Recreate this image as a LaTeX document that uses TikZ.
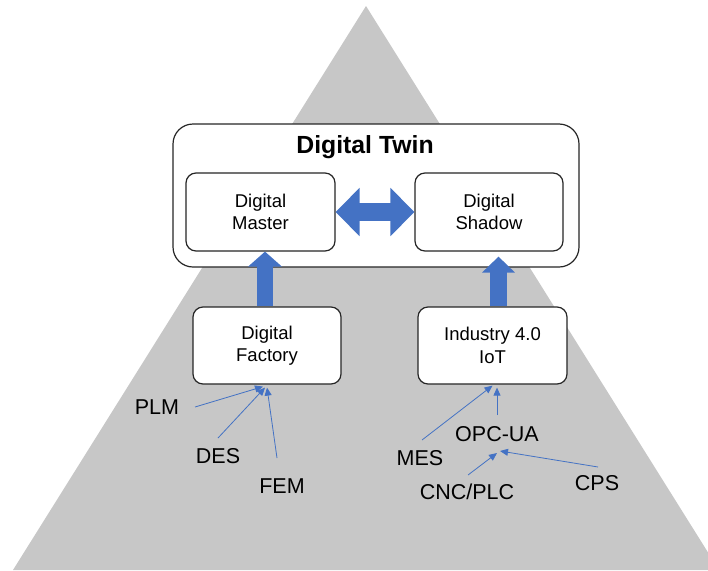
\documentclass[tikz,border=0pt]{standalone}
\usepackage{fontspec}
\setmainfont{Liberation Sans}
\usetikzlibrary{arrows.meta,calc}
\definecolor{pyramid}{RGB}{199,199,199}
\definecolor{flow}{RGB}{68,114,196}
\definecolor{frame}{RGB}{38,38,38}

\begin{document}
\begin{tikzpicture}[x=1pt,y=-1pt,
  box/.style={draw=frame, line width=1.2pt, fill=white, rounded corners=10pt,
    minimum width=149pt, minimum height=78pt, align=center, inner sep=0pt,
    font=\fontsize{18.5}{22.3}\selectfont},
  lbl/.style={anchor=base, inner sep=0pt, font=\fontsize{21.5}{24}\selectfont},
  feed/.style={draw=flow, line width=0.8pt, -{Triangle[length=8pt,width=7pt]}},
]
\useasboundingbox (0,0) rectangle (708,570);

% background pyramid
\begin{scope}
  \clip (0,0) rectangle (708,570);
  \fill[pyramid] (366,6) -- (719,570) -- (13,570) -- cycle;
\end{scope}

% digital twin frame
\node[draw=frame, line width=1.2pt, fill=white, rounded corners=20pt,
      minimum width=406pt, minimum height=143pt, inner sep=0pt] (twin) at (376,195.5) {};
\node[anchor=base, inner sep=0pt, font=\bfseries\fontsize{24.8}{28}\selectfont] (title) at (365,153) {Digital Twin};

% inner and lower boxes
\node[box, minimum width=149pt] (master) at (260.5,212) {Digital\\Master};
\node[box, minimum width=148pt] (shadow) at (489,212) {Digital\\Shadow};
\node[box, minimum width=148pt, minimum height=77pt] (factory) at (267,345.5) {Digital\\Factory};
\node[box, minimum width=149pt, minimum height=77pt] (iot) at (492.5,345.5) {Industry 4.0\\IoT};

% thick block arrows
\draw[draw=flow, line width=18pt,
      {Triangle[length=24pt,width=47pt]}-{Triangle[length=24pt,width=47pt]}]
  (master.east) -- (shadow.west);
\draw[draw=flow, line width=16pt, -{Triangle[length=15pt,width=33pt]}]
  ($(factory.north)+(-2,0)$) -- ($(factory.north |- master.south)+(-2,0)$);
\draw[draw=flow, line width=17pt, -{Triangle[length=16pt,width=32pt]}]
  ($(iot.north)+(6,0)$) -- ($(iot.north |- shadow.south)+(6,5)$);

% source labels
\node[lbl] (plm) at (157,414) {PLM};
\node[lbl] (des) at (218,463) {DES};
\node[lbl] (fem) at (282,493) {FEM};
\node[lbl] (mes) at (420,465) {MES};
\node[lbl] (opc) at (497,441) {OPC-UA};
\node[lbl] (cnc) at (467,499) {CNC/PLC};
\node[lbl] (cps) at (597,490) {CPS};

% thin feed arrows
\draw[feed] ([shift={(38,-7)}]plm.base) -- ([shift={(-4,2)}]factory.south);
\draw[feed] ([shift={(0,-25)}]des.base) -- ([shift={(-2,3)}]factory.south);
\draw[feed] ([shift={(-5,-35)}]fem.base) -- ([shift={(0,3)}]factory.south);
\draw[feed] ([shift={(2,-25)}]mes.base) -- ([shift={(0,1)}]iot.south);
\draw[feed] ([shift={(0,-26)}]opc.base) -- ([shift={(4.5,3)}]iot.south);
\draw[feed] ([shift={(1,-24)}]cnc.base) -- ([shift={(0,12)}]opc.base);
\draw[feed] ([shift={(1,-23)}]cps.base) -- ([shift={(3,10)}]opc.base);
\end{tikzpicture}
\end{document}
